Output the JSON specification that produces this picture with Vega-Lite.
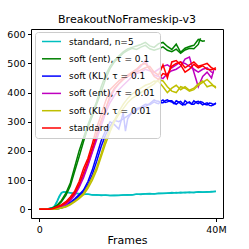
{
  "$schema": "https://vega.github.io/schema/vega-lite/v6.json",
  "width": 192,
  "height": 189,
  "autosize": "none",
  "padding": {"left": 31, "top": 29, "right": 26, "bottom": 31},
  "background": "white",
  "title": {"text": "BreakoutNoFrameskip-v3", "font": "DejaVu Sans", "fontSize": 11, "fontWeight": "normal", "color": "#000", "offset": 4},
  "data": {"values": [
    {"series": "standard, n=5", "run": 1, "x": [0,1,2,3,3.5,4,4.5,5,5.5,6,7,8,9,10,11,12,13,14,15,16,17,18,19,20,21,22,23,24,25,26,27,28,29,30,31,32,33,34,35,36,37,38,39,40], "y": [0,1,2,6,13,28,45,57,60,58,56,55,53,52,51,50,49,49,48,47,47,48,49,49,50,51,52,53,52,53,54,55,56,55,57,56,58,57,58,59,58,59,61,61]},
    {"series": "standard, n=5", "run": 2, "x": [0,1,2,3,3.5,4,4.5,5,5.5,6,7,8,9,10,11,12,13,14,15,16,17,18,19,20,21,22,23,24,25,26,27,28,29,30,31,32,33,34,35,36,37,38,39,40], "y": [0,0.5,2,5,11,25,42,55,59,59,57,54,54,51,52,49,50,47,49,47,48,47,49,50,49,52,51,53,54,52,55,54,55,57,56,58,57,59,57,60,59,60,59,62]},
    {"series": "soft (ent), τ = 0.1", "run": 1, "x": [0,1,2,3,4,5,6,7,8,9,10,11,12,13,14,15,16,17,18,19,20,21,22,23,24,25,26,27,28,29,30,31,32,33,34,35,36,37,37.5], "y": [0,0,1,4,14,30,55,90,145,200,245,290,330,370,420,460,490,510,525,540,550,555,560,565,572,560,555,568,572,558,548,566,538,552,558,562,582,576,578]},
    {"series": "soft (ent), τ = 0.1", "run": 2, "x": [0,1,2,3,4,5,6,7,8,9,10,11,12,13,14,15,16,17,18,19,20,21,22,23,24,25,26,27,28,29,30,31,32,33,34,35,36,36.5], "y": [0,0,1,3,11,26,48,80,130,180,232,280,320,362,402,447,482,505,520,535,545,552,548,556,562,550,545,550,557,545,540,549,535,546,552,550,565,586]},
    {"series": "soft (KL), τ = 0.1", "run": 1, "x": [0,1,2,3,4,5,6,7,8,9,10,11,12,13,14,15,16,17,18,19,19.5,20,21,22,23,24,25,26,26.5,27,27.5,28,28.5,29,29.5,30,30.5,31,31.5,32,32.5,33,33.5,34,34.5,35,35.5,36,36.5,37,37.5,38,38.5,39,39.5,40], "y": [0,0,0,1,2,6,14,24,36,50,66,95,135,185,235,270,300,290,275,330,268,310,335,345,350,360,358,368,364,362,370,375,366,368,372,372,365,360,366,370,362,358,365,368,361,372,366,362,369,366,360,358,364,363,358,365]},
    {"series": "soft (KL), τ = 0.1", "run": 2, "x": [0,1,2,3,4,5,6,7,8,9,10,11,12,13,14,15,16,17,18,19,20,21,22,23,24,25,26,26.5,27,27.5,28,28.5,29,29.5,30,30.5,31,31.5,32,32.5,33,33.5,34,34.5,35,35.5,36,36.5,37,37.5,38,38.5,39,39.5,40], "y": [0,0,0,0,1,4,10,20,32,45,60,85,120,165,215,255,285,305,300,310,320,330,340,348,352,362,375,371,370,365,365,372,375,370,368,362,372,368,362,357,372,366,365,360,360,368,370,364,358,362,365,356,355,360,362]},
    {"series": "soft (ent), τ = 0.01", "run": 1, "x": [0,1,2,3,4,5,6,7,8,9,10,11,12,13,14,15,16,17,18,19,20,21,22,23,24,25,26,27,28,29,30,31,32,33,34,35,36,37,38,39,39.5], "y": [0,0,0,1,4,10,18,32,52,80,115,155,200,250,295,340,380,410,430,445,455,465,475,490,510,480,460,455,448,465,475,480,490,515,522,470,420,455,470,450,477]},
    {"series": "soft (ent), τ = 0.01", "run": 2, "x": [0,1,2,3,4,5,6,7,8,9,10,11,12,13,14,15,16,17,18,19,20,21,22,23,24,25,26,27,28,29,30,31,32,33,34,35,36,37,38,39,39.5], "y": [0,0,0,1,3,8,16,30,48,75,108,150,195,240,285,330,365,390,410,425,440,455,465,470,480,475,470,480,490,495,485,495,505,500,490,480,470,480,485,470,468]},
    {"series": "soft (KL), τ = 0.01", "run": 1, "x": [0,1,2,3,4,5,6,7,8,9,10,11,12,13,14,15,16,17,18,19,20,21,22,23,24,25,26,27,28,29,30,31,32,33,34,35,36,37,38,39,40], "y": [0,0,0,0,2,5,10,18,28,40,55,80,110,145,190,240,275,305,335,360,380,395,405,415,425,430,440,438,420,400,415,425,410,420,408,415,430,440,420,425,420]},
    {"series": "soft (KL), τ = 0.01", "run": 2, "x": [0,1,2,3,4,5,6,7,8,9,10,11,12,13,14,15,16,17,18,19,20,21,22,23,24,25,26,27,28,29,30,31,32,33,34,35,36,37,38,39,40], "y": [0,0,0,0,1,4,8,15,25,36,50,72,100,135,180,225,265,300,325,345,365,380,390,400,410,420,430,445,440,420,405,400,420,415,405,410,425,435,445,430,415]},
    {"series": "standard", "run": 1, "x": [0,1,2,3,4,5,6,7,8,9,10,11,12,13,14,15,16,17,18,19,20,21,22,23,24,25,26,27,28,29,30,31,32,33,34,35,36,37,38,39,40], "y": [0,0,1,3,9,16,26,42,62,95,140,175,225,280,325,370,410,425,440,450,455,465,470,478,485,490,470,460,495,450,505,510,495,470,480,497,485,492,480,478,485]},
    {"series": "standard", "run": 2, "x": [0,1,2,3,4,5,6,7,8,9,10,11,12,13,14,15,16,17,18,19,20,21,22,23,24,25,26,27,28,29,30,31,32,33,34,35,36,37,38,39,40], "y": [0,0,0,2,7,13,22,36,55,85,125,165,210,260,305,345,390,415,430,445,460,470,480,495,500,480,455,445,465,460,490,500,505,485,495,505,490,495,500,485,478]}
  ]},
  "transform": [{"flatten": ["x", "y"]}],
  "mark": {"type": "line", "strokeWidth": 1.5, "clip": true},
  "encoding": {
    "x": {"field": "x", "type": "quantitative", "scale": {"domain": [-1.9, 41.6], "nice": false, "zero": false},
      "axis": {"values": [0, 40], "labelExpr": "datum.value == 0 ? '0' : datum.value + 'M'", "title": "Frames", "titlePadding": 0, "labelPadding": 3}},
    "y": {"field": "y", "type": "quantitative", "scale": {"domain": [-30, 618], "nice": false},
      "axis": {"values": [0, 100, 200, 300, 400, 500, 600], "title": null, "labelPadding": 2.5}},
    "color": {"field": "series", "type": "nominal",
      "scale": {"domain": ["standard, n=5", "soft (ent), τ = 0.1", "soft (KL), τ = 0.1", "soft (ent), τ = 0.01", "soft (KL), τ = 0.01", "standard"],
                "range": ["#00bfbf", "#008000", "#0000ff", "#bf00bf", "#bfbf00", "#ff0000"]},
      "legend": {"orient": "none", "legendX": 4, "legendY": 3, "title": null}},
    "detail": {"field": "run", "type": "nominal"}
  },
  "config": {
    "view": {"stroke": "#000", "strokeWidth": 1},
    "axis": {"grid": false, "domain": false, "tickColor": "#000", "tickSize": 3.5, "labelFont": "DejaVu Sans", "labelFontSize": 9.5, "labelColor": "#000", "titleFont": "DejaVu Sans", "titleFontSize": 11, "titleFontWeight": "normal", "titleColor": "#000"},
    "legend": {"symbolType": "M-1,0H6.6", "symbolSize": 25, "symbolStrokeWidth": 1.5, "labelFont": "DejaVu Sans", "labelFontSize": 9, "labelColor": "#000", "labelOffset": 20, "rowPadding": 7.3, "padding": 5, "fillColor": "rgba(255,255,255,0.8)", "strokeColor": "#cccccc", "cornerRadius": 3, "labelLimit": 200}
  }
}
